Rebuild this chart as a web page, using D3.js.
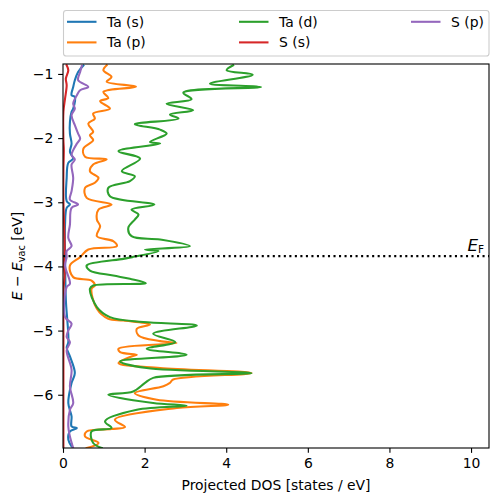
<!DOCTYPE html>
<html><head><meta charset="utf-8">
<script src="https://cdn.jsdelivr.net/npm/d3@7"></script>
<style>body{margin:0;background:#fff}svg{display:block}text{font-family:"DejaVu Sans",sans-serif}</style>
</head><body>
<svg id="c" width="498" height="502"></svg>
<script>
const seriesNames = ["Ta (s)", "Ta (p)", "Ta (d)", "S (s)", "S (p)"];
const seriesColors = ["#1f77b4", "#ff7f0e", "#2ca02c", "#d62728", "#9467bd"];
const xTicks = [0, 2, 4, 6, 8, 10];
const yTicks = [-1, -2, -3, -4, -5, -6];
const fermiLevel = -3.84;

const taS_E =   [-0.868,-0.969,-1.098,-1.202,-1.332,-1.358,-1.540,-1.592,-1.745,-1.930,-2.086,-2.215,-2.319,-2.386,-2.620,-2.983,-3.036,-3.087,-3.347,-3.815,-4.520,-5.179,-5.268,-5.403,-5.662,-5.818,-6.129,-6.338,-6.494,-6.519,-6.572,-6.701,-6.805];
const taS_dos = [0.50,0.37,0.29,0.25,0.21,0.29,0.25,0.21,0.17,0.17,0.21,0.17,0.25,0.13,0.09,0.09,0.17,0.09,0.05,0.05,0.07,0.13,0.09,0.17,0.29,0.21,0.13,0.21,0.21,0.34,0.17,0.13,0.21];

const taP_E =   [-0.864,-0.942,-1.047,-1.121,-1.199,-1.280,-1.374,-1.425,-1.540,-1.618,-1.696,-1.774,-1.903,-1.955,-2.033,-2.164,-2.290,-2.332,-2.413,-2.516,-2.620,-2.695,-2.776,-2.931,-3.036,-3.114,-3.269,-3.372,-3.528,-3.606,-3.684,-3.737,-3.855,-3.986,-4.167,-4.220,-4.298,-4.349,-4.660,-4.816,-4.843,-4.905,-4.972,-5.076,-5.164,-5.195,-5.283,-5.335,-5.377,-5.403,-5.506,-5.584,-5.662,-5.763,-5.815,-5.867,-5.974,-6.078,-6.156,-6.207,-6.389,-6.503,-6.534,-6.572,-6.650,-6.752,-6.830];
const taP_dos = [1.07,0.99,1.19,1.07,1.79,0.99,1.11,0.91,1.15,0.74,0.78,0.62,0.74,0.66,0.74,0.50,0.54,1.07,0.74,0.66,0.87,0.78,0.54,0.58,1.19,0.87,0.83,0.91,0.83,1.23,1.32,0.62,0.42,0.17,0.25,0.70,0.78,0.70,0.83,1.11,1.48,2.13,1.81,1.85,2.38,2.78,1.36,1.40,1.81,1.68,1.36,2.38,4.62,2.70,2.62,2.46,1.76,2.30,4.05,2.79,1.27,1.52,1.19,0.58,0.54,0.87,0.58];

const taD_E =   [-0.865,-0.942,-1.011,-1.151,-1.202,-1.291,-1.394,-1.463,-1.565,-1.634,-1.696,-1.783,-1.868,-1.930,-2.059,-2.086,-2.204,-2.319,-2.516,-2.593,-2.671,-2.776,-2.905,-3.036,-3.114,-3.192,-3.269,-3.399,-3.528,-3.581,-3.684,-3.737,-3.762,-3.855,-3.882,-3.986,-4.064,-4.142,-4.193,-4.260,-4.298,-4.349,-4.634,-4.790,-4.867,-4.921,-5.050,-5.179,-5.283,-5.377,-5.481,-5.584,-5.662,-5.737,-5.815,-5.949,-6.000,-6.129,-6.171,-6.234,-6.416,-6.519,-6.572,-6.752,-6.830];
const taD_dos = [4.17,4.01,4.65,3.60,4.85,2.95,3.15,2.54,3.19,2.62,2.83,1.76,2.38,2.54,2.13,2.38,1.36,1.89,1.44,1.76,1.64,1.11,1.15,2.24,1.68,1.85,1.76,1.60,1.68,2.38,3.11,2.01,2.34,1.70,1.48,0.58,0.66,1.23,1.64,2.03,0.74,0.66,0.83,1.15,1.97,3.28,2.21,2.75,2.05,3.03,1.40,2.05,4.62,2.21,2.01,1.72,1.11,2.21,3.03,1.81,1.03,1.19,0.70,0.74,0.95];

const sS_E =   [-0.864,-0.942,-1.073,-1.176,-1.385,-1.592,-2.028,-2.184,-2.495,-2.963,-3.741,-3.975,-4.146,-4.364,-4.988,-6.830];
const sS_dos = [0.09,0.13,0.07,0.09,0.05,0.01,0.01,0.02,0.01,0.01,0.04,0.02,0.04,0.01,0.01,0.01];

const sP_E =   [-0.875,-0.969,-1.098,-1.202,-1.254,-1.332,-1.463,-1.540,-1.643,-1.799,-1.930,-2.008,-2.086,-2.188,-2.266,-2.335,-2.413,-2.620,-2.827,-2.958,-3.036,-3.087,-3.347,-3.555,-3.684,-3.762,-3.855,-3.986,-4.271,-4.322,-4.790,-4.894,-4.998,-5.101,-5.179,-5.310,-5.611,-5.871,-6.129,-6.234,-6.494,-6.650,-6.830];
const sP_dos = [0.46,0.42,0.37,0.62,0.42,0.34,0.25,0.29,0.21,0.29,0.37,0.42,0.34,0.25,0.21,0.29,0.21,0.25,0.21,0.17,0.37,0.21,0.17,0.13,0.21,0.09,0.09,0.05,0.17,0.09,0.05,0.21,0.13,0.09,0.17,0.09,0.21,0.17,0.25,0.17,0.13,0.17,0.25];

const series = [[taS_E, taS_dos],[taP_E, taP_dos],[taD_E, taD_dos],[sS_E, sS_dos],[sP_E, sP_dos]];

const L = 63, R = 489, T = 64, B = 448;
const svg = d3.select("#c");
const x = d3.scaleLinear().domain([0, 10.44]).range([L, R]);
const y = d3.scaleLinear().domain([-6.83, -0.845]).range([B, T]);

svg.append("defs").append("clipPath").attr("id","clip")
  .append("rect").attr("x",L).attr("y",T).attr("width",R-L).attr("height",B-T);

const line = d3.line().x(d=>x(d[1])).y(d=>y(d[0])).curve(d3.curveCatmullRom.alpha(0.5));
const g = svg.append("g").attr("clip-path","url(#clip)");
series.forEach((s,i)=>{
  const pts = s[0].map((e,k)=>[e, s[1][k]]);
  g.append("path").attr("d", line(pts)).attr("fill","none")
    .attr("stroke", seriesColors[i]).attr("stroke-width",2.08)
    .attr("stroke-linejoin","round").attr("stroke-linecap","square");
});

// Fermi level
svg.append("line").attr("x1",L).attr("x2",R).attr("y1",y(fermiLevel)).attr("y2",y(fermiLevel))
  .attr("stroke","#000").attr("stroke-width",2.08).attr("stroke-dasharray","2.08,3.44");
const ef = svg.append("text").attr("x",484).attr("y",y(fermiLevel)-5).attr("text-anchor","end")
  .attr("font-size",16.7);
ef.append("tspan").attr("font-style","italic").text("E");
ef.append("tspan").attr("font-size",10.5).attr("dy",1.5).text("F");

// Axes
const fs = 13.9;
const xa = svg.append("g").attr("transform",`translate(0,${B})`)
  .call(d3.axisBottom(x).tickValues(xTicks).tickSize(4.86).tickPadding(4.9).tickFormat(d3.format("d")));
const ya = svg.append("g").attr("transform",`translate(${L},0)`)
  .call(d3.axisLeft(y).tickValues(yTicks).tickSize(4.86).tickPadding(4.9).tickFormat(d=>"\u2212"+Math.abs(d)));
[xa,ya].forEach(a=>{
  a.select(".domain").remove();
  a.selectAll("line").attr("stroke","#000").attr("stroke-width",1.1);
  a.selectAll("text").attr("font-size",fs).attr("fill","#000").attr("font-family","DejaVu Sans");
});
svg.append("rect").attr("x",L).attr("y",T).attr("width",R-L).attr("height",B-T)
  .attr("fill","none").attr("stroke","#000").attr("stroke-width",1.1);

svg.append("text").attr("x",(L+R)/2).attr("y",490).attr("text-anchor","middle")
  .attr("font-size",fs).text("Projected DOS [states / eV]");
const yl = svg.append("text").attr("transform",`translate(22,${(T+B)/2}) rotate(-90)`)
  .attr("text-anchor","middle").attr("font-size",fs);
yl.append("tspan").attr("font-style","italic").text("E");
yl.append("tspan").text(" \u2212 ");
yl.append("tspan").attr("font-style","italic").text("E");
yl.append("tspan").attr("font-size",9.7).attr("dy",2.5).text("vac");
yl.append("tspan").attr("dy",-2.5).text(" [eV]");

// Legend
const lg = svg.append("g");
lg.append("rect").attr("x",63.5).attr("y",10.5).attr("width",425.5).attr("height",45.5).attr("rx",2.8)
  .attr("fill","#fff").attr("fill-opacity",0.8).attr("stroke","#ccc").attr("stroke-width",1.1);
const colX = [67, 239, 411];
const rowY = [21.8, 42.4];
seriesNames.forEach((n,i)=>{
  const c = Math.floor(i/2), r = i%2;
  lg.append("line").attr("x1",colX[c]).attr("x2",colX[c]+29.5).attr("y1",rowY[r]).attr("y2",rowY[r])
    .attr("stroke",seriesColors[i]).attr("stroke-width",2.08);
  lg.append("text").attr("x",colX[c]+40).attr("y",rowY[r]+5).attr("font-size",fs).text(n);
});
</script>
</body></html>
